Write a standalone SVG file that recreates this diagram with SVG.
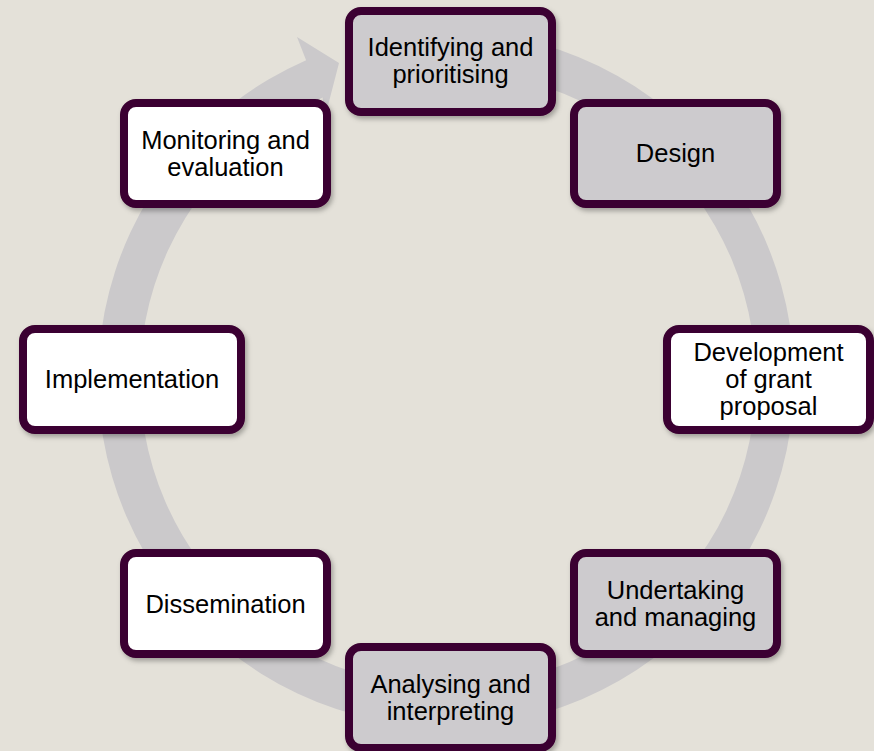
<svg xmlns="http://www.w3.org/2000/svg" width="874" height="751" viewBox="0 0 874 751">
<defs>
<filter id="sh" x="-10%" y="-10%" width="125%" height="130%">
<feDropShadow dx="2" dy="3" stdDeviation="2.5" flood-color="#000" flood-opacity="0.3"/>
</filter>
<style>
.box{stroke:#3A0030;stroke-width:8;filter:url(#sh)}
.g{fill:#CDCBCE}
.w{fill:#FFFFFF}
text{font-family:"Liberation Sans",Arial,sans-serif;font-size:25.5px;fill:#000;text-anchor:middle}
</style>
</defs>
<rect width="874" height="751" fill="#E4E1D9"/>
<g id="connectors">
<path d="M 478.3 32.3 A 348 348 0 1 1 306.1 60.2 L 297 37 L 339 63 L 324 121 L 322.7 97.6 A 308 308 0 1 0 474.8 72.2 Z" fill="#CBC9CB"/>
</g>
<g id="n1">
<rect class="box g" x="349" y="11" width="203" height="101" rx="12"/>
<text x="450.5" y="56">Identifying and</text>
<text x="450.5" y="83">prioritising</text>
</g>
<g id="n2">
<rect class="box g" x="574" y="103" width="203" height="101" rx="12"/>
<text x="675.5" y="162">Design</text>
</g>
<g id="n3">
<rect class="box w" x="667" y="329" width="203" height="101" rx="12"/>
<text x="768.5" y="360.5">Development</text>
<text x="768.5" y="387.5">of grant</text>
<text x="768.5" y="414.5">proposal</text>
</g>
<g id="n4">
<rect class="box g" x="574" y="553" width="203" height="101" rx="12"/>
<text x="675.5" y="598.5">Undertaking</text>
<text x="675.5" y="625.5">and managing</text>
</g>
<g id="n5">
<rect class="box g" x="349" y="647" width="203" height="101" rx="12"/>
<text x="450.5" y="692.5">Analysing and</text>
<text x="450.5" y="719.5">interpreting</text>
</g>
<g id="n6">
<rect class="box w" x="124" y="553" width="203" height="101" rx="12"/>
<text x="225.5" y="612.5">Dissemination</text>
</g>
<g id="n7">
<rect class="box w" x="23" y="329" width="218" height="101" rx="12"/>
<text x="132" y="388">Implementation</text>
</g>
<g id="n8">
<rect class="box w" x="124" y="103" width="203" height="101" rx="12"/>
<text x="225.5" y="148.5">Monitoring and</text>
<text x="225.5" y="175.5">evaluation</text>
</g>
</svg>
